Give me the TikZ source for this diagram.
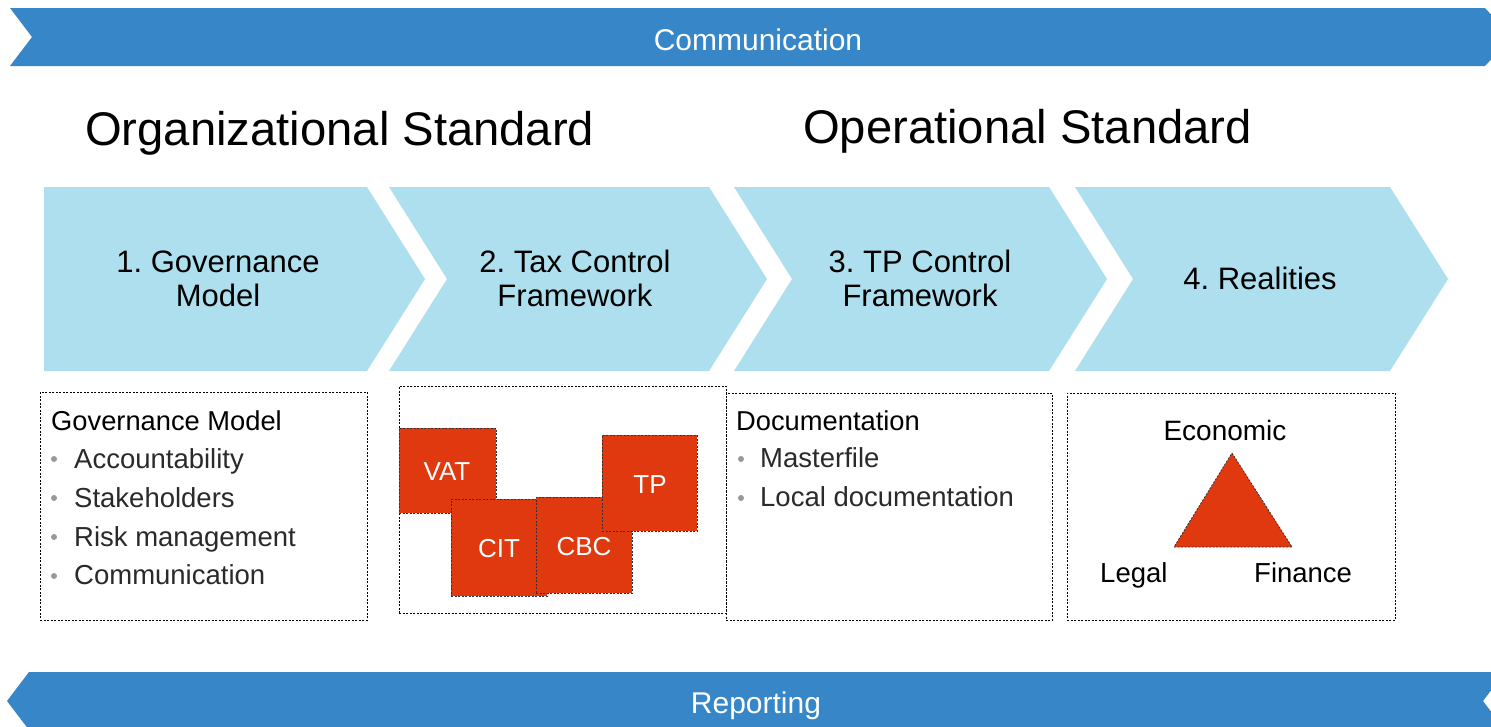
\documentclass[tikz,border=0pt]{standalone}
\usepackage{fontspec}
\setmainfont{Liberation Sans}
\definecolor{bannerblue}{HTML}{3787C8}
\definecolor{chevblue}{HTML}{ADDFEE}
\definecolor{taxred}{HTML}{E0390F}
\definecolor{bulletgray}{HTML}{999999}
\definecolor{itemtext}{HTML}{2A2A2A}
\newcommand\fsz[1]{\fontsize{#1pt}{#1pt}\selectfont}
\frenchspacing
\begin{document}
\begin{tikzpicture}[x=1pt,y=-1pt,
  txt/.style={inner sep=0pt, anchor=base},
  txtl/.style={inner sep=0pt, anchor=base west},
  bannertext/.style={txt, text=white, font=\fsz{30}},
  heading/.style={txtl, text=black, font=\fsz{47.2}},
  chevtext/.style={txt, text=black, font=\fsz{31}},
  boxhead/.style={txtl, text=black, font=\fsz{27.3}},
  boxitem/.style={txtl, text=itemtext, font=\fsz{27.5}},
  redtext/.style={txt, text=white, font=\fsz{26}},
  trilabel/.style={txtl, text=black, font=\fsz{27.5}},
  dbox/.style={draw=black, line width=0.8pt, dash pattern=on 2pt off 1.5pt, inner sep=0pt, anchor=north west},
  redbox/.style={fill=taxred, draw=black!80, line width=0.8pt, dash pattern=on 2pt off 1.5pt, inner sep=0pt, anchor=north west},
  bullet/.style={fill=bulletgray, draw=none, circle, inner sep=0pt, minimum size=6pt}
]
\useasboundingbox (0,0) rectangle (1491,726);
\fill[white] (0,0) rectangle (1491,726);
% banners
\begin{scope}
\clip (0,0) rectangle (1491,726);
\fill[bannerblue] (10,8) -- (1485,8) -- (1512,37) -- (1485,66) -- (10,66) -- (32,37) -- cycle;
\fill[bannerblue] (29,672) -- (1505,672) -- (1483,701) -- (1505,730) -- (29,730) -- (7,701) -- cycle;
\end{scope}
\node[bannertext] (comm) at (758,50) {Communication};
\node[bannertext] (rep) at (756,713) {Reporting};
% headings
\node[heading] (orgstd) at (85,145) {Organizational Standard};
\node[heading] (opstd) at (803,143) {Operational Standard};
% chevrons
\fill[chevblue] (44,187) -- (367,187) -- (425,279) -- (367,371) -- (44,371) -- cycle;
\fill[chevblue] (389,187) -- (709,187) -- (767,279) -- (709,371) -- (389,371) -- (447,279) -- cycle;
\fill[chevblue] (734,187) -- (1049,187) -- (1107,279) -- (1049,371) -- (734,371) -- (792,279) -- cycle;
\fill[chevblue] (1075,187) -- (1390,187) -- (1448,279) -- (1390,371) -- (1075,371) -- (1133,279) -- cycle;
\node[chevtext] (c1a) at (218,272) {1. Governance};
\node[chevtext] (c1b) at (218,306) {Model};
\node[chevtext] (c2a) at (575,272) {2. Tax Control};
\node[chevtext] (c2b) at (575,306) {Framework};
\node[chevtext] (c3a) at (920,272) {3. TP Control};
\node[chevtext] (c3b) at (920,306) {Framework};
\node[chevtext] (c4a) at (1260,289) {4. Realities};
% dashed boxes
\node[dbox, minimum width=327pt, minimum height=228pt] (box1) at (40,392) {};
\node[dbox, minimum width=327pt, minimum height=227pt] (box2) at (399,386) {};
\node[dbox, minimum width=326pt, minimum height=227pt] (box3) at (726,393) {};
\node[dbox, minimum width=328pt, minimum height=227pt] (box4) at (1067,393) {};
% box 1
\node[boxhead] (gmhead) at (51,430) {Governance Model};
\node[bullet] (b11) at (54,459) {};
\node[boxitem] (i11) at (74,468) {Accountability};
\node[bullet] (b12) at (54,498) {};
\node[boxitem] (i12) at (74,507) {Stakeholders};
\node[bullet] (b13) at (54,537) {};
\node[boxitem] (i13) at (74,546) {Risk management};
\node[bullet] (b14) at (54,576) {};
\node[boxitem] (i14) at (74,584) {Communication};
% box 2 red squares
\node[redbox, minimum width=97pt, minimum height=85pt] (vat) at (399,428) {};
\node[redbox, minimum width=96pt, minimum height=97pt] (cit) at (451,499) {};
\node[redbox, minimum width=96pt, minimum height=96pt] (cbc) at (536,497) {};
\node[redbox, minimum width=95pt, minimum height=96pt] (tp) at (602,435) {};
\node[redtext] (vatt) at (447,480) {VAT};
\node[redtext] (citt) at (499,557) {CIT};
\node[redtext] (cbct) at (584,555) {CBC};
\node[redtext] (tpt) at (650,493) {TP};
% box 3
\node[boxhead] (dochead) at (736,430) {Documentation};
\node[bullet] (b31) at (741,459) {};
\node[boxitem] (i31) at (760,467) {Masterfile};
\node[bullet] (b32) at (741,498) {};
\node[boxitem] (i32) at (760,506) {Local documentation};
% box 4 triangle
\fill[taxred] (1232,453) -- (1292,547) -- (1174,547) -- cycle;
\draw[black!80, line width=0.8pt, dash pattern=on 2pt off 1.5pt] (1232,453) -- (1292,547) -- (1174,547) -- cycle;
\node[txt, text=black, font=\fsz{28}] (econ) at (1225,440) {Economic};
\node[trilabel] (legal) at (1100,582) {Legal};
\node[trilabel] (fin) at (1254,582) {Finance};
\end{tikzpicture}
\end{document}
